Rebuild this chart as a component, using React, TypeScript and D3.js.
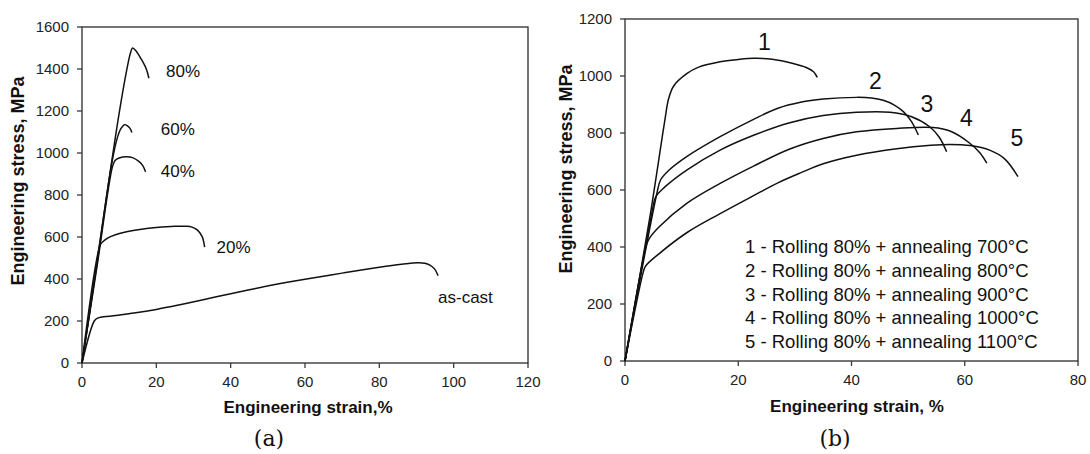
import React from "react";
import * as d3 from "d3";

type Pt = [number, number];

// ---------- Panel (a) data ----------
const aXTicks = [0, 20, 40, 60, 80, 100, 120];
const aYTicks = [0, 200, 400, 600, 800, 1000, 1200, 1400, 1600];

const asCast: Pt[] = [[0, 0], [3.3, 200], [4.2, 214], [8, 224], [14, 238], [20, 255], [26, 276], [32, 299], [40, 330], [46.4, 354], [53, 377], [60, 399], [70, 428], [80, 456], [86, 470], [90.5, 477], [92.2, 475], [93.6, 466], [94.9, 447], [95.8, 416]];
const roll20: Pt[] = [[0, 0], [4.9, 562], [5.6, 577], [7, 596], [9, 611], [12, 625], [16, 637], [20, 645], [25, 651], [28, 651], [29.6, 647], [31, 634], [32.3, 603], [33, 552]];
const roll40: Pt[] = [[0, 0], [4, 455], [8.2, 935], [8.9, 964], [10, 976], [12, 982], [13.6, 978], [15.2, 961], [16.3, 941], [17.1, 911]];
const roll60: Pt[] = [[0, 0], [4, 470], [8, 950], [9.5, 1072], [10.5, 1117], [11.4, 1135], [12.3, 1128], [13, 1115], [13.4, 1098]];
const roll80: Pt[] = [[0, 0], [4, 480], [8, 960], [10, 1190], [12, 1392], [13, 1474], [13.6, 1500], [14.5, 1487], [16, 1445], [17.3, 1400], [18, 1356]];

const aSeries = [asCast, roll20, roll40, roll60, roll80];
const aLabels = ["as-cast", "20%", "40%", "60%", "80%"];
const aLabelPos: Pt[] = [[95.8, 314], [36.2, 552], [21.2, 914], [21.2, 1114], [22.6, 1390]];

// ---------- Panel (b) data ----------
const bXTicks = [0, 20, 40, 60, 80];
const bYTicks = [0, 200, 400, 600, 800, 1000, 1200];

const ann700: Pt[] = [[0, 0], [4.4, 506], [7, 840], [7.7, 920], [8.6, 965], [10.9, 1008], [13, 1031], [16.8, 1050], [20, 1058], [22.7, 1062], [26, 1059], [29.7, 1044], [32, 1030], [33.3, 1015], [33.95, 995]];
const ann800: Pt[] = [[0, 0], [5.6, 585], [6.3, 636], [7.8, 670], [10.9, 717], [16.8, 787], [22.7, 848], [27, 887], [31, 908], [35, 919], [40.9, 925], [43.5, 923], [45.6, 915], [47.5, 899], [49.2, 874], [50.6, 840], [51.8, 793]];
const ann900: Pt[] = [[0, 0], [4.8, 525], [5.4, 575], [7, 610], [10.9, 670], [16.8, 740], [22.7, 792], [29.1, 836], [35, 861], [40.9, 873], [46.8, 873], [50.5, 858], [53.8, 822], [55.5, 785], [56.8, 734]];
const ann1000: Pt[] = [[0, 0], [3.7, 400], [4.2, 427], [6, 470], [10.9, 553], [16.8, 623], [22.7, 684], [29.1, 744], [35, 781], [40.9, 804], [48, 816], [54.4, 819], [57.5, 806], [60.9, 764], [62.7, 730], [63.9, 694]];
const ann1100: Pt[] = [[0, 0], [3.2, 310], [3.6, 332], [6, 376], [10.9, 450], [16.8, 517], [22.7, 580], [27, 625], [31, 660], [35, 692], [40.9, 722], [48, 745], [54, 757], [57.4, 760], [61, 756], [64.4, 740], [67, 710], [69.4, 647]];

const bSeries = [ann700, ann800, ann900, ann1000, ann1100];
const bNumbers = ["1", "2", "3", "4", "5"];
const bNumberPos: Pt[] = [[24.6, 1118], [44.2, 983], [53.3, 902], [60.3, 853], [69.2, 782]];
const bLegend = [
  "1 - Rolling 80% + annealing 700°C",
  "2 - Rolling 80% + annealing 800°C",
  "3 - Rolling 80% + annealing 900°C",
  "4 - Rolling 80% + annealing 1000°C",
  "5 - Rolling 80% + annealing 1100°C",
];
const bLegendPos: Pt = [21.2, 401];

const SANS = "'Liberation Sans', Arial, sans-serif";
const SERIF = "'DejaVu Serif', 'Liberation Serif', serif";
const AXIS = "#3a3a3a";
const INK = "#111";

function Panel(props: {
  x: d3.ScaleLinear<number, number>;
  y: d3.ScaleLinear<number, number>;
  xTicks: number[];
  yTicks: number[];
  series: Pt[][];
  xTitle: string;
  yTitle: string;
  yTitlePos: Pt;
  xTitlePos: Pt;
  caption: string;
  captionPos: Pt;
  children?: React.ReactNode;
}) {
  const { x, y, xTicks, yTicks, series } = props;
  const [x0, x1] = x.range();
  const [y0, y1] = y.range();
  const line = d3
    .line<Pt>()
    .x((d) => x(d[0]))
    .y((d) => y(d[1]))
    .curve(d3.curveCatmullRom.alpha(0.5));
  return (
    <g>
      <rect x={x0} y={y1} width={x1 - x0} height={y0 - y1} fill="none" stroke={AXIS} strokeWidth={1.4} />
      {xTicks.map((t) => (
        <g key={"xt" + t}>
          <line x1={x(t)} x2={x(t)} y1={y0} y2={y0 + 5} stroke={AXIS} strokeWidth={1.3} />
          <text x={x(t)} y={y0 + 24} textAnchor="middle" fontFamily={SANS} fontSize={15} fill="#222">
            {t}
          </text>
        </g>
      ))}
      {yTicks.map((t) => (
        <g key={"yt" + t}>
          <line x1={x0 - 5} x2={x0} y1={y(t)} y2={y(t)} stroke={AXIS} strokeWidth={1.3} />
          <text x={x0 - 13} y={y(t)} dy="0.35em" textAnchor="end" fontFamily={SANS} fontSize={15} fill="#222">
            {t}
          </text>
        </g>
      ))}
      {series.map((s, i) => (
        <path key={"s" + i} d={line(s) || ""} fill="none" stroke={INK} strokeWidth={1.5} />
      ))}
      <text
        transform={`translate(${props.yTitlePos[0]},${props.yTitlePos[1]}) rotate(-90)`}
        textAnchor="middle"
        dy="0.35em"
        fontFamily={SANS}
        fontWeight="bold"
        fontSize={18}
        fill="#111"
      >
        {props.yTitle}
      </text>
      <text x={props.xTitlePos[0]} y={props.xTitlePos[1]} textAnchor="middle" fontFamily={SANS} fontWeight="bold" fontSize={17} fill="#111">
        {props.xTitle}
      </text>
      <text x={props.captionPos[0]} y={props.captionPos[1]} textAnchor="middle" dy="0.35em" fontFamily={SERIF} fontSize={22} fill="#111">
        {props.caption}
      </text>
      {props.children}
    </g>
  );
}

export default function App() {
  const ax = d3.scaleLinear().domain([0, 120]).range([82, 528]);
  const ay = d3.scaleLinear().domain([0, 1600]).range([363, 27]);
  const bx = d3.scaleLinear().domain([0, 80]).range([625, 1078]);
  const by = d3.scaleLinear().domain([0, 1200]).range([361, 19]);

  return (
    <svg
      width={1090}
      height={454}
      viewBox="0 0 1090 454"
      style={{ position: "absolute", left: 0, top: 0, background: "#fff" }}
    >
      <rect x={0} y={0} width={1090} height={454} fill="#fff" />
      <Panel
        x={ax}
        y={ay}
        xTicks={aXTicks}
        yTicks={aYTicks}
        series={aSeries}
        xTitle="Engineering strain,%"
        yTitle="Engineering stress, MPa"
        yTitlePos={[18, 181]}
        xTitlePos={[308, 413]}
        caption="(a)"
        captionPos={[269, 438]}
      >
        {aLabels.map((l, i) => (
          <text key={l} x={ax(aLabelPos[i][0])} y={ay(aLabelPos[i][1])} dy="0.35em" fontFamily={SANS} fontSize={17} fill="#111">
            {l}
          </text>
        ))}
      </Panel>
      <Panel
        x={bx}
        y={by}
        xTicks={bXTicks}
        yTicks={bYTicks}
        series={bSeries}
        xTitle="Engineering strain, %"
        yTitle="Engineering stress, MPa"
        yTitlePos={[566, 169]}
        xTitlePos={[857, 412]}
        caption="(b)"
        captionPos={[835, 438]}
      >
        {bNumbers.map((l, i) => (
          <text key={l} x={bx(bNumberPos[i][0])} y={by(bNumberPos[i][1])} dy="0.35em" textAnchor="middle" fontFamily={SANS} fontSize={23} fill="#111">
            {l}
          </text>
        ))}
        {bLegend.map((l, i) => (
          <text key={l} x={bx(bLegendPos[0])} y={by(bLegendPos[1]) + i * 23.75} dy="0.35em" fontFamily={SANS} fontSize={18.5} fill="#111">
            {l}
          </text>
        ))}
      </Panel>
    </svg>
  );
}
